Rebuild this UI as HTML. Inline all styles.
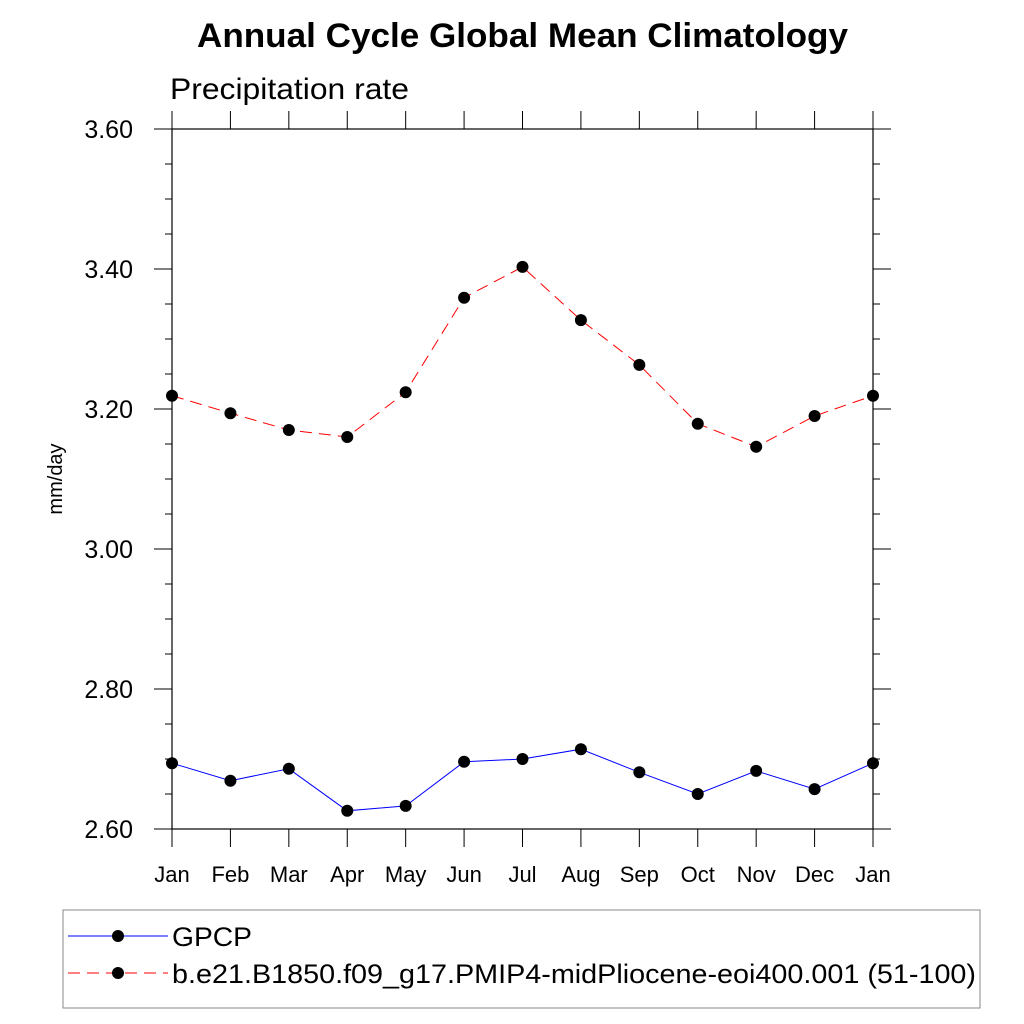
<!DOCTYPE html>
<html><head><meta charset="utf-8"><style>body{margin:0;background:#fff}svg{display:block}</style></head>
<body>
<svg id="chart" width="1024" height="1024" xmlns="http://www.w3.org/2000/svg" font-family="Liberation Sans, sans-serif">
<text x="197" y="47" font-size="34" font-weight="bold" textLength="651" lengthAdjust="spacingAndGlyphs">Annual Cycle Global Mean Climatology</text>
<text x="170" y="99" font-size="30" textLength="239" lengthAdjust="spacingAndGlyphs">Precipitation rate</text>
<text transform="translate(62,479) rotate(-90)" text-anchor="middle" font-size="20">mm/day</text>
<g id="axes"></g>
<g id="series"></g>
<rect x="63" y="910" width="917" height="98" fill="none" stroke="#888" stroke-width="1"/>
<g>
<line x1="68" y1="936" x2="168" y2="936" stroke="blue" stroke-width="1"/>
<circle cx="118" cy="936" r="6" fill="#000"/>
<text x="172" y="946" font-size="27" textLength="80" lengthAdjust="spacingAndGlyphs">GPCP</text></g>
<g>
<line x1="68" y1="973" x2="168" y2="973" stroke="red" stroke-width="1" stroke-dasharray="12,7"/>
<circle cx="118" cy="973" r="6" fill="#000"/>
<text x="172" y="983" font-size="27" textLength="804" lengthAdjust="spacingAndGlyphs">b.e21.B1850.f09_g17.PMIP4-midPliocene-eoi400.001 (51-100)</text></g>
</svg>
<script>
const months = ["Jan","Feb","Mar","Apr","May","Jun","Jul","Aug","Sep","Oct","Nov","Dec","Jan"];
const gpcp = [2.694,2.669,2.686,2.626,2.633,2.696,2.700,2.714,2.681,2.650,2.683,2.657,2.694];
const model = [3.219,3.194,3.170,3.160,3.224,3.359,3.403,3.327,3.263,3.179,3.146,3.190,3.219];
const yTicks = [2.6,2.8,3.0,3.2,3.4,3.6];
const yTickLabels = ["2.60","2.80","3.00","3.20","3.40","3.60"];
const NS="http://www.w3.org/2000/svg";
const L=172,R=873,T=129,B=829;
const xs=i=>L+(R-L)*i/12;
const ys=v=>B-(v-2.6)/1.0*(B-T);
const ax=document.getElementById('axes'), se=document.getElementById('series');
function mk(tag,attrs,parent){const e=document.createElementNS(NS,tag);for(const k in attrs)e.setAttribute(k,attrs[k]);parent.appendChild(e);return e;}
const frame=mk('rect',{x:L,y:T,width:R-L,height:B-T,fill:'none',stroke:'#000','stroke-width':1.2},ax);


for(let v=2.6;v<=3.6001;v+=0.05){
  const y=ys(v); const major=Math.abs((v-2.6)/0.2-Math.round((v-2.6)/0.2))<1e-6; const len=major?18:7;
  const t1=mk('line',{x1:L-len,y1:y,x2:L,y2:y,stroke:'#000'},ax);
  
  
  const t2=mk('line',{x1:R,y1:y,x2:R+len,y2:y,stroke:'#000'},ax);
  
  
}
yTicks.forEach((v,i)=>{const t=mk('text',{x:133,y:ys(v)+9,'text-anchor':'end','font-size':25},ax);t.textContent=yTickLabels[i];
  
  });
months.forEach((m,i)=>{const x=xs(i);
  const a=mk('line',{x1:x,y1:B,x2:x,y2:B+18,stroke:'#000'},ax);
  
  
  const b=mk('line',{x1:x,y1:T-18,x2:x,y2:T,stroke:'#000'},ax);
  
  
  const t=mk('text',{x:x,y:882,'text-anchor':'middle','font-size':22},ax);t.textContent=m;
  
  });
function series(vals,color,dash,name){
  const p=mk('polyline',{points:vals.map((v,i)=>xs(i)+','+ys(v)).join(' '),fill:'none',stroke:color,'stroke-width':1,'stroke-dasharray':dash},se);
  
  
  vals.forEach((v,i)=>{const c=mk('circle',{cx:xs(i),cy:ys(v),r:6,fill:'#000'},se);
    
    });
}
series(gpcp,'blue','none','gpcp');
series(model,'red','12,7','model');
</script>
</body></html>
